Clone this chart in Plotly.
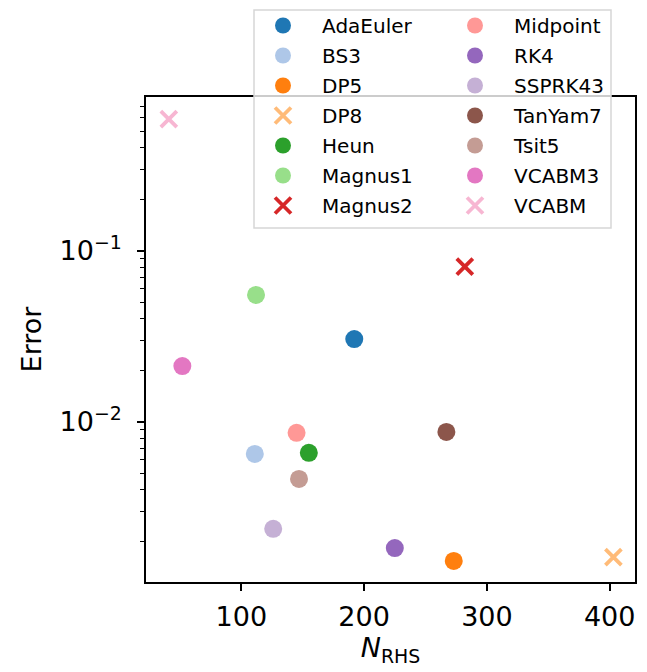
import plotly.graph_objects as go

methods = ["AdaEuler", "BS3", "DP5", "DP8", "Heun", "Magnus1", "Magnus2",
           "Midpoint", "RK4", "SSPRK43", "TanYam7", "Tsit5", "VCABM3", "VCABM"]
n_rhs = [192, 111, 273, 403, 155, 112, 282, 145, 225, 126, 267, 147, 52, 41]
errors = [0.0305, 0.0065, 0.00154, 0.00162, 0.0066, 0.0553, 0.0809,
          0.00863, 0.00183, 0.00237, 0.00874, 0.00464, 0.0212, 0.59]
colors = ["#1f77b4", "#aec7e8", "#ff7f0e", "#ffbb78", "#2ca02c", "#98df8a", "#d62728",
          "#ff9896", "#9467bd", "#c5b0d5", "#8c564b", "#c49c94", "#e377c2", "#f7b6d2"]
markers = ["o", "o", "o", "x", "o", "o", "x", "o", "o", "o", "o", "o", "o", "x"]

FONT = "DejaVu Sans"
W, H = 647, 672
# plot area in page pixels
L, R, T, B = 146, 635, 97, 582

def py(p):
    return (B - p) / (B - T)

def px(p):
    return (p - L) / (R - L)

fig = go.Figure()
for i, (m, x, y, c, mk) in enumerate(zip(methods, n_rhs, errors, colors, markers)):
    if mk == "o":
        marker = dict(symbol="circle", size=18, color=c, line=dict(width=0))
    else:
        marker = dict(symbol="x-thin", size=16, color=c, line=dict(width=3.8, color=c))
    fig.add_trace(go.Scatter(
        x=[x], y=[y], mode="markers", name="\u00a0\u00a0\u00a0" + m, marker=marker,
        legend="legend" if i < 7 else "legend2", legendgroup=m,
    ))

legend_common = dict(
    bgcolor="rgba(0,0,0,0)", borderwidth=0, font=dict(family=FONT, size=20, color="black"),
    tracegroupgap=1, yanchor="top", xanchor="left", itemsizing="trace",
)

fig.update_layout(
    width=W, height=H,
    margin=dict(l=L, r=W - R, t=T, b=H - B, autoexpand=False),
    paper_bgcolor="white", plot_bgcolor="white",
    font=dict(family=FONT, size=27, color="black"),
    showlegend=True,
    legend=dict(x=px(263), y=py(6), **legend_common),
    legend2=dict(x=px(455), y=py(6), **legend_common),
    xaxis=dict(
        range=[22.4, 420.6], showline=True, mirror=True, linecolor="black", linewidth=1.6,
        ticks="outside", ticklen=7, tickwidth=1.6, tickcolor="black",
        tickvals=[100, 200, 300, 400], showgrid=False, zeroline=False,
        ticklabelstandoff=3,
        title=dict(text="<i>N</i><sub>RHS</sub>", font=dict(size=27), standoff=4),
        tickfont=dict(size=27),
    ),
    yaxis=dict(
        type="log", range=[-2.936, -0.10], showline=True, mirror=True, linecolor="black",
        linewidth=1.6, ticks="outside", ticklen=7, tickwidth=1.6, tickcolor="black",
        tickvals=[0.01, 0.1], ticktext=["10<sup>\u22122</sup>", "10<sup>\u22121</sup>"],
        showgrid=False, zeroline=False, ticklabelstandoff=10,
        minor=dict(ticks="outside", ticklen=4, tickwidth=1.2, tickcolor="black", dtick="D1", showgrid=False),
        title=dict(text="Error", font=dict(size=27), standoff=10),
        tickfont=dict(size=27),
    ),
    shapes=[dict(
        type="rect", xref="paper", yref="paper", layer="above",
        x0=px(254), x1=px(611), y0=py(228), y1=py(10),
        fillcolor="rgba(255,255,255,0.8)", line=dict(color="#d6d6d6", width=1.5),
    )],
)

fig.write_html("out.html", config={"displayModeBar": False},
               post_script="document.body.style.margin='0';")
